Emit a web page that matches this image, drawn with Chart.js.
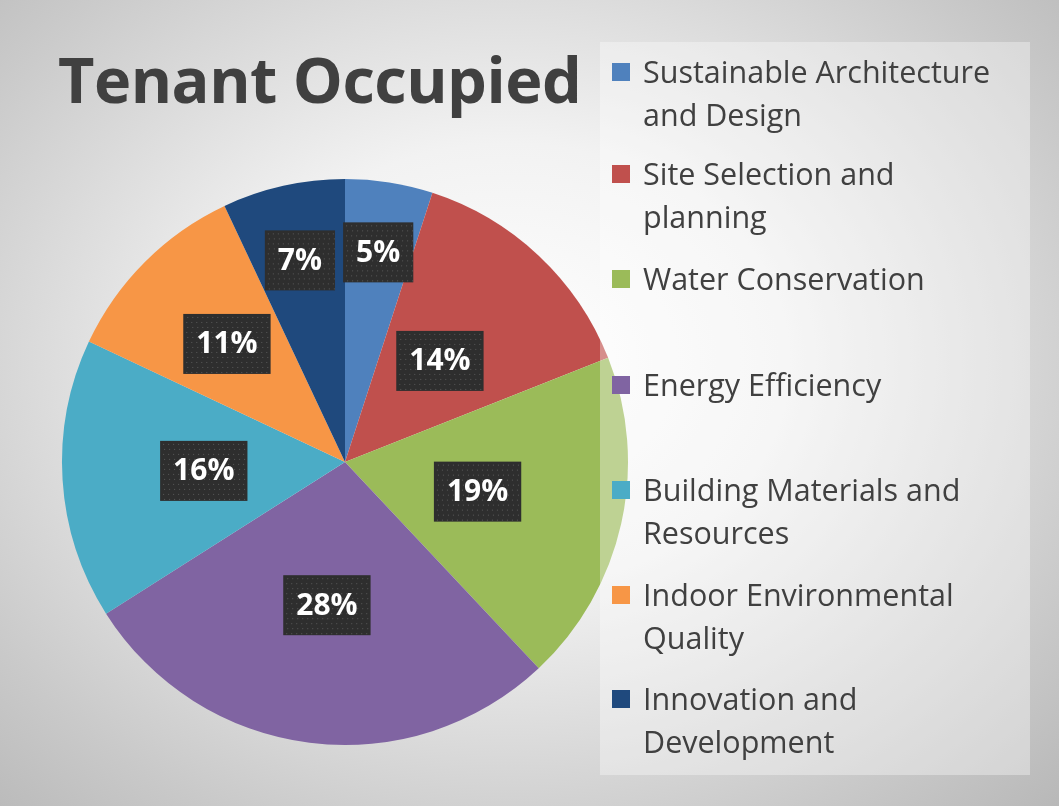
<!DOCTYPE html>
<html><head><meta charset="utf-8">
<script src="https://cdn.jsdelivr.net/npm/chart.js@4"></script>
<style>
html,body{margin:0;padding:0;width:1059px;height:806px;overflow:hidden;}
body{background:radial-gradient(ellipse at 48% 45%, #ffffff 0%, #f2f2f2 35%, #c9c9c9 80%, #b8b8b8 100%);position:relative;font-family:"Open Sans","Liberation Sans",sans-serif;}
#title{position:absolute;left:58px;top:36px;font-size:63px;font-weight:bold;color:#404040;letter-spacing:-0.5px;font-family:"Open Sans",sans-serif;}
#wrap{position:absolute;left:52px;top:169px;width:586px;height:586px;}
#legbox{position:absolute;left:600px;top:42px;width:430px;height:733px;background:rgba(255,255,255,0.35);}
.item{position:absolute;left:612px;font-size:30.5px;line-height:43px;color:#404040;}
.item span.sw{position:absolute;left:0;top:13px;width:18px;height:18px;}
.item div{margin-left:31px;width:400px;}
</style></head><body>
<div id="title">Tenant Occupied</div>
<div id="wrap"><canvas id="c"></canvas></div>
<div id="legbox"></div>
<div id="legend"></div>
<script>
const categories=["Sustainable Architecture and Design","Site Selection and planning","Water Conservation","Energy Efficiency","Building Materials and Resources","Indoor Environmental Quality","Innovation and Development"];
const legendLines=[["Sustainable Architecture","and Design"],["Site Selection and","planning"],["Water Conservation"],["Energy Efficiency"],["Building Materials and","Resources"],["Indoor Environmental","Quality"],["Innovation and","Development"]];
const values=[5,14,19,28,16,11,7];
const colors=["#4F81BD","#C0504D","#9BBB59","#8064A2","#4BACC6","#F79646","#1F497D"];
const legendTops=[50,152,257,363,468,573,677];
const labelRadius=[0.75,0.49,0.48,0.51,0.5,0.59,0.73];

const leg=document.getElementById('legend');
categories.forEach((c,i)=>{
  const d=document.createElement('div');d.className='item';d.style.top=legendTops[i]+'px';
  d.innerHTML='<span class="sw" style="background:'+colors[i]+'"></span><div>'+legendLines[i].join('<br>')+'</div>';
  leg.appendChild(d);
});

const labelPlugin={id:'lbl',afterDatasetsDraw(chart){
  const ctx=chart.ctx;const meta=chart.getDatasetMeta(0);
  meta.data.forEach((arc,i)=>{
    const p=arc.getProps(['x','y','startAngle','endAngle','outerRadius']);
    const a=(p.startAngle+p.endAngle)/2;const r=p.outerRadius*labelRadius[i];
    const x=p.x+Math.cos(a)*r, y=p.y+Math.sin(a)*r;
    const t=values[i]+'%';
    ctx.save();ctx.font='bold 30px "Open Sans", sans-serif';
    const w=ctx.measureText(t).width+26,h=60;
    ctx.fillStyle='#2e2e2e';ctx.fillRect(x-w/2,y-h/2,w,h);
    ctx.fillStyle='rgba(120,120,120,0.6)';
    for(let yy=y-h/2+3;yy<y+h/2;yy+=5)for(let xx=x-w/2+3+((yy|0)%2);xx<x+w/2;xx+=5)ctx.fillRect(xx,yy,1,1);
    ctx.fillStyle='#fff';ctx.textAlign='center';ctx.textBaseline='middle';ctx.fillText(t,x,y+1);
    ctx.restore();
  });
}};

new Chart(document.getElementById('c'),{type:'pie',
  data:{labels:categories,datasets:[{data:values,backgroundColor:colors,borderWidth:0}]},
  options:{responsive:true,maintainAspectRatio:false,animation:false,layout:{padding:10},
    plugins:{legend:{display:false},tooltip:{enabled:false}}},
  plugins:[labelPlugin]});
</script>
</body></html>
